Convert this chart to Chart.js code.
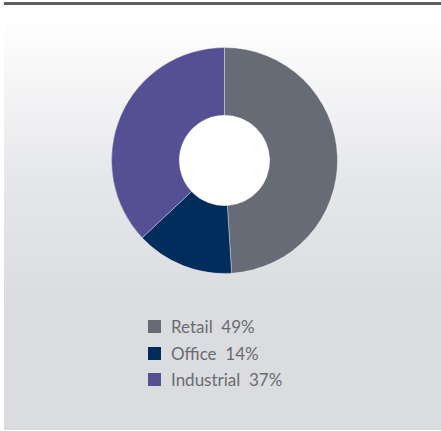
<!DOCTYPE html>
<html>
<head>
<meta charset="utf-8">
<script src="https://cdn.jsdelivr.net/npm/chart.js@4"></script>
<style>
  html, body { margin: 0; padding: 0; background: #fff; }
  body { width: 441px; height: 431px; position: relative; overflow: hidden; font-family: 'Lato', sans-serif; }
  .topline { position: absolute; left: 4px; top: 2px; width: 437px; height: 3px; background: #5c5d60; }
  .panel { position: absolute; left: 4px; top: 18px; width: 437px; height: 412px;
           background: linear-gradient(to bottom, #ffffff 0px, #e6e7ea 160px, #dbdce0 290px, #dbdce0 100%); }
  .chartbox { position: absolute; left: 111px; top: 47px; width: 227px; height: 227px; }
  #legend { position: absolute; left: 148px; top: 313px; margin: 0; padding: 0; list-style: none; }
  #legend li { height: 26.7px; display: flex; align-items: center; font-size: 17px; color: #6a6b70; white-space: pre; }
  #legend span.sw { display: inline-block; width: 13px; height: 13px; margin-right: 10px; }
</style>
</head>
<body>
<div class="topline"></div>
<div class="panel"></div>
<div class="chartbox"><canvas id="donut"></canvas></div>
<ul id="legend"></ul>
<script>
const categories = ['Retail', 'Office', 'Industrial'];
const shares = [49, 14, 37];
const colours = ['#676b76', '#002d5b', '#554f94'];

// miolo branco do donut
const miolo = {
    id: 'miolo',
    beforeDatasetsDraw(chart) {
        const arc = chart.getDatasetMeta(0).data[0];
        if (!arc) return;
        const c = chart.ctx;
        c.save();
        c.fillStyle = '#ffffff';
        c.beginPath();
        c.arc(arc.x, arc.y, arc.innerRadius + 1, 0, Math.PI * 2);
        c.fill();
        c.restore();
    }
};

window.desenharDonut = () => {
    const ctx = document.getElementById('donut').getContext('2d');

    window.donutChart = new Chart(ctx, {
        type: 'doughnut',
        data: {
            labels: categories,
            datasets: [{
                data: shares,
                backgroundColor: colours,
                borderColor: 'rgba(255, 255, 255, 0.35)',
                borderWidth: 1
            }]
        },
        options: {
            responsive: true,
            maintainAspectRatio: false,
            animation: false,
            cutout: '40%',
            layout: { padding: 0 },
            plugins: {
                legend: { display: false },
                tooltip: { enabled: false }
            }
        },
        plugins: [miolo]
    });

    // legenda em HTML
    const ul = document.getElementById('legend');
    categories.forEach((c, i) => {
        const li = document.createElement('li');
        const sw = document.createElement('span');
        sw.className = 'sw';
        sw.style.background = colours[i];
        li.appendChild(sw);
        li.appendChild(document.createTextNode(c + '  ' + shares[i] + '%'));
        ul.appendChild(li);
    });
};

window.desenharDonut();
</script>
</body>
</html>
